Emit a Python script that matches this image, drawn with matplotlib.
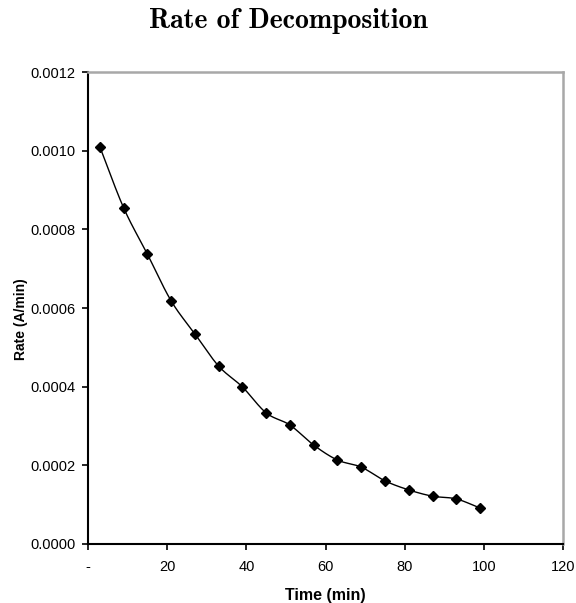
import numpy as np
import matplotlib.pyplot as plt

# data
tempo = [3, 9, 15, 21, 27, 33, 39, 45, 51, 57, 63, 69, 75, 81, 87, 93, 99]
taxa = [0.00101, 0.000855, 0.000737, 0.000618, 0.000534, 0.000452, 0.000399,
        0.000333, 0.000302, 0.000251, 0.000213, 0.000195, 0.000160, 0.000137,
        0.000121, 0.000114, 0.0000909]
xticks = [0, 20, 40, 60, 80, 100, 120]
xlabels = ['-', '20', '40', '60', '80', '100', '120']
yticks = [0.0, 0.0002, 0.0004, 0.0006, 0.0008, 0.0010, 0.0012]


# linha suavizada (tipo Excel) - Catmull-Rom so para desenhar
def suavizar(x, y, n=20):
    x = np.asarray(x, float)
    y = np.asarray(y, float)
    px = np.concatenate([[2 * x[0] - x[1]], x, [2 * x[-1] - x[-2]]])
    py = np.concatenate([[2 * y[0] - y[1]], y, [2 * y[-1] - y[-2]]])
    xs, ys = [], []
    t = np.linspace(0, 1, n, endpoint=False)
    for i in range(1, len(px) - 2):
        for arr, out in ((px, xs), (py, ys)):
            p0, p1, p2, p3 = arr[i - 1], arr[i], arr[i + 1], arr[i + 2]
            out.extend(0.5 * (2 * p1 + (-p0 + p2) * t
                              + (2 * p0 - 5 * p1 + 4 * p2 - p3) * t ** 2
                              + (-p0 + 3 * p1 - 3 * p2 + p3) * t ** 3))
    xs.append(x[-1])
    ys.append(y[-1])
    return xs, ys


fig = plt.figure(figsize=(5.76, 6.03), dpi=100)
ax = fig.add_axes([0.1528, 0.0983, 0.8250, 0.7818])

sx, sy = suavizar(tempo, taxa)
ax.plot(sx, sy, color='black', lw=1.0)
ax.plot(tempo, taxa, linestyle='none', marker='D', ms=5, color='black')

ax.set_xlim(0, 120)
ax.set_ylim(0, 0.0012)
ax.set_xticks(xticks)
ax.set_xticklabels(xlabels, fontfamily='Liberation Sans', fontsize=10.5)
ax.set_yticks(yticks)
ax.set_yticklabels([f'{v:.4f}' for v in yticks], fontfamily='Liberation Sans', fontsize=10.5)
ax.tick_params(direction='out', length=4, width=1.2, colors='black', pad=5)
ax.tick_params(axis='x', pad=8)

for lado in ('left', 'bottom'):
    ax.spines[lado].set_color('black')
    ax.spines[lado].set_linewidth(1.5)
for lado in ('top', 'right'):
    ax.spines[lado].set_color('#a8a8a8')
    ax.spines[lado].set_linewidth(1.8)

ax.set_xlabel('Time (min)', fontfamily='Liberation Sans', fontweight='bold',
              fontsize=11.5)
ax.set_ylabel('Rate (A/min)', fontfamily='Liberation Sans', fontweight='bold',
              fontsize=10)
ax.xaxis.set_label_coords(0.5, -44 / 471.4)
ax.yaxis.set_label_coords(-60 / 475.3, 0.4756)

fig.text(0.5, 1 - 21 / 603, 'Rate of Decomposition', fontname='cmb10',
         fontsize=20, ha='center', va='center')

plt.savefig('out.png', dpi=100)
plt.close()
